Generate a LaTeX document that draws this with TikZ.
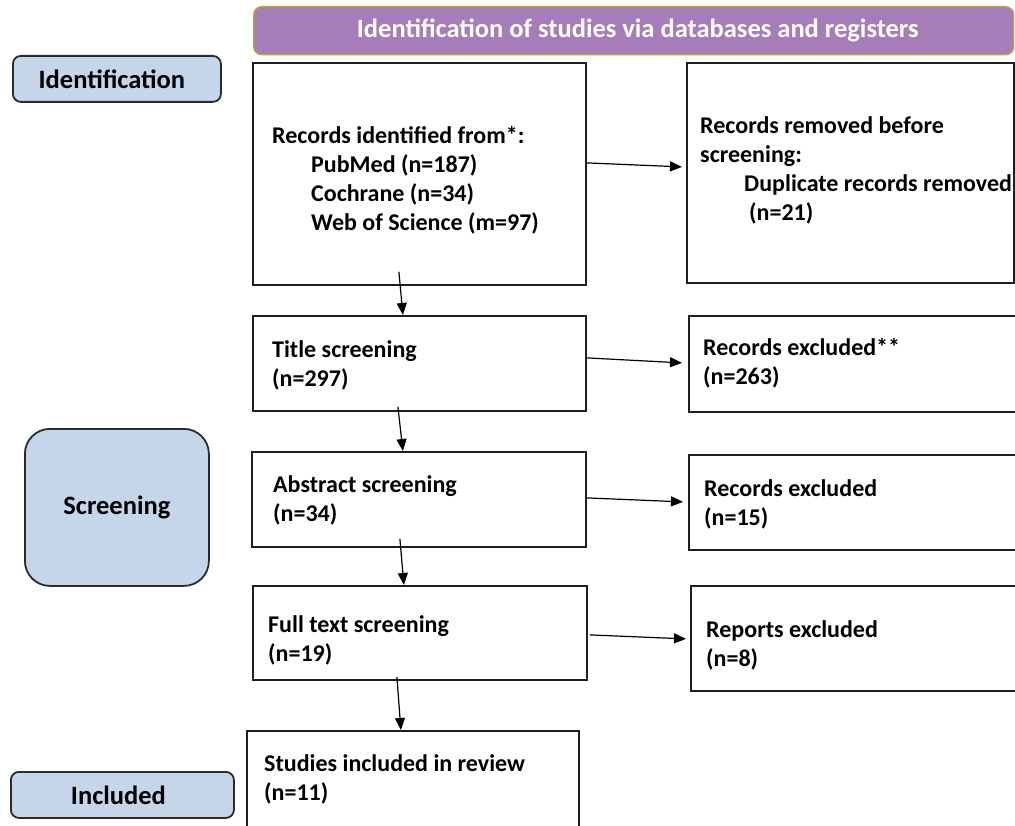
\documentclass[tikz,border=0pt]{standalone}
\usepackage{fontspec}
\setmainfont{Carlito}
\usetikzlibrary{arrows.meta}
\definecolor{hdr}{HTML}{A67DB8}
\definecolor{hdrline}{HTML}{C2A33A}
\definecolor{lab}{HTML}{C5D5EA}
\definecolor{labline}{HTML}{2B2B2B}
\definecolor{boxline}{HTML}{1E1E1E}
\begin{document}
\begin{tikzpicture}[x=1pt,y=-1pt,
  box/.style={draw=boxline, line width=1.8pt, inner sep=0pt, anchor=north west},
  txt/.style={anchor=west, align=left, inner sep=0pt, font=\fontsize{24}{29}\selectfont\bfseries},
  phase/.style={draw=labline, fill=lab, line width=1.8pt, rounded corners=8pt, inner sep=0pt,
    anchor=north west, font=\fontsize{26.5}{30}\selectfont\bfseries},
  header/.style={draw=hdrline, fill=hdr, line width=1.4pt, rounded corners=8pt, inner sep=0pt,
    anchor=north west, text=white, font=\fontsize{26.5}{30}\selectfont\bfseries},
  arr/.style={line width=1.2pt, draw=black, -{Triangle[length=12pt,width=10pt]}}]

\clip (0,0) rectangle (1015,826);
\fill[white] (0,0) rectangle (1015,826);

% header
\node[header, minimum width=760pt, minimum height=48pt] (hd) at (253,6)
  {\hspace*{8pt}Identification of studies via databases and registers};

% phase labels
\node[phase, minimum width=208pt, minimum height=46pt] (pid) at (12,55) {Identification\hspace*{10pt}};
\node[phase, rounded corners=25pt, minimum width=184pt, minimum height=157pt] (pscr) at (24,428) {Screening};
\node[phase, minimum width=223pt, minimum height=46pt] (pinc) at (10,771) {Included\hspace*{8pt}};

% boxes
\node[box, minimum width=333pt, minimum height=222pt] (b1) at (252,62) {};
\node[box, minimum width=327pt, minimum height=220pt] (r1) at (686,62) {};
\node[box, minimum width=333pt, minimum height=95pt] (b2) at (252,315) {};
\node[box, minimum width=340pt, minimum height=96pt] (r2) at (688,315) {};
\node[box, minimum width=334pt, minimum height=95pt] (b3) at (251,451) {};
\node[box, minimum width=340pt, minimum height=95pt] (r3) at (688,454) {};
\node[box, minimum width=334pt, minimum height=94pt] (b4) at (252,585) {};
\node[box, minimum width=340pt, minimum height=105pt] (r4) at (690,585) {};
\node[box, minimum width=332pt, minimum height=120pt] (b5) at (246,730) {};

% texts
\node[txt] (t1) at (272,180) {Records identified from*:\\
  \hspace*{39pt}PubMed (n=187)\\
  \hspace*{39pt}Cochrane (n=34)\\
  \hspace*{39pt}Web of Science (m=97)};
\node[txt] (tr1) at (700,170.5) {Records removed before\\
  screening:\\
  \hspace*{44pt}Duplicate records removed\\
  \hspace*{49pt}(n=21)};
\node[txt] (t2) at (272,365) {Title screening\\(n=297)};
\node[txt] (tr2) at (703,363.5) {Records excluded**\\(n=263)};
\node[txt] (t3) at (273,500) {Abstract screening\\(n=34)};
\node[txt] (tr3) at (704,504) {Records excluded\\(n=15)};
\node[txt] (t4) at (268,640) {Full text screening\\(n=19)};
\node[txt] (tr4) at (706,645) {Reports excluded\\(n=8)};
\node[txt] (t5) at (264,779.5) {Studies included in review\\(n=11)};

% arrows right
\draw[arr] ([yshift=11pt]b1.east) -- ([xshift=-4pt,yshift=6pt]r1.west);
\draw[arr] ([yshift=5.5pt]b2.east) -- ([xshift=-6pt,yshift=1pt]r2.west);
\draw[arr] ([yshift=1.5pt]b3.east) -- ([xshift=-5pt,yshift=0.5pt]r3.west);
\draw[arr] ([xshift=2pt,yshift=-2pt]b4.east) -- ([xshift=-4pt,yshift=-0.5pt]r4.west);

% arrows down
\draw[arr] ([xshift=-20.5pt,yshift=14pt]b1.south) -- ([xshift=-16.5pt]b2.north);
\draw[arr] ([xshift=-21.5pt,yshift=5pt]b2.south) -- ([xshift=-16pt]b3.north);
\draw[arr] ([xshift=-19pt,yshift=9pt]b3.south) -- ([xshift=-16pt]b4.north);
\draw[arr] ([xshift=-23pt,yshift=4pt]b4.south) -- ([xshift=-12pt]b5.north);
\end{tikzpicture}
\end{document}
